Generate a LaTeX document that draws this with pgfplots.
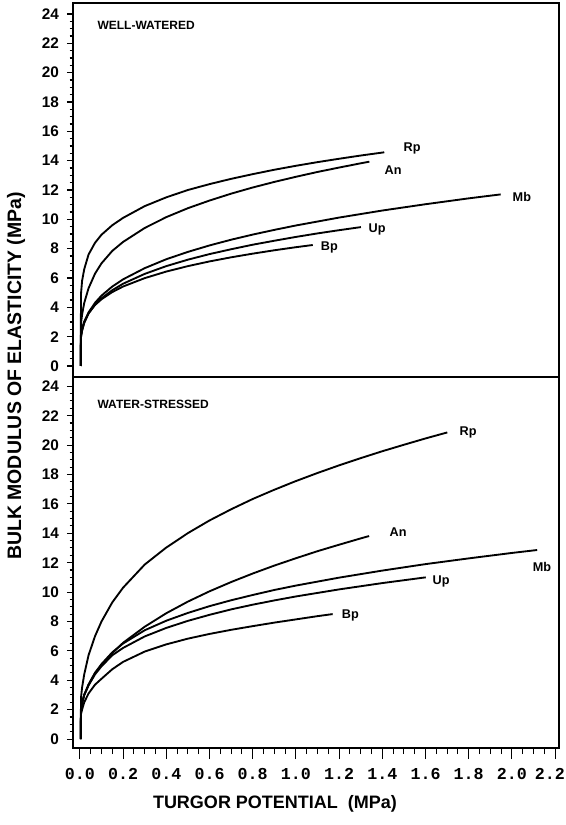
\documentclass[border=0pt]{standalone}
\usepackage{pgfplots}
\pgfplotsset{compat=1.18}
\usepackage{fontspec}
\setmainfont{Liberation Sans}
\setmonofont{Liberation Mono}

\pgfplotsset{
  panel/.style={
    width=364.5pt, scale only axis,
    xmin=-0.032, xmax=2.218,
    ytick={0,2,...,24},
    yticklabels={0,2,4,6,8,10,12,14,16,18,20,22,24},
    minor y tick num=3,
    ytick pos=left,
    tick align=outside,
    major tick length=4.5pt,
    minor tick length=2.6pt,
    axis line style={line width=1pt},
    yticklabel style={font=\fontsize{11.5}{13}\selectfont\bfseries, xshift=-2.5pt},
    every tick/.style={black, line width=0.8pt},
    clip=false,
  },
  curve/.style={black, line width=1.4pt, no marks},
}
\tikzset{lab/.style={font=\fontsize{9.5}{11}\selectfont\bfseries}}

\begin{document}
\begin{tikzpicture}
\useasboundingbox (-54.75pt,-57.75pt) rectangle (369.75pt,561pt);

% top panel: well-watered
\begin{axis}[panel, at={(0,278.25pt)}, anchor=south west,
  height=280.5pt, ymin=-0.75, ymax=24.75,
  xtick=\empty]
\addplot[curve] coordinates {(0.004,0) (0.005,4.9) (0.01,5.8) (0.02,6.6) (0.04,7.6) (0.07,8.4) (0.1,8.95) (0.15,9.6) (0.2,10.1) (0.3,10.9) (0.4,11.5) (0.5,12.0) (0.6,12.4) (0.7,12.76) (0.8,13.08) (0.9,13.38) (1.0,13.65) (1.1,13.9) (1.2,14.13) (1.3,14.35) (1.409,14.57)};
\addplot[curve] coordinates {(0.004,0) (0.005,2.9) (0.01,3.5) (0.02,4.3) (0.04,5.3) (0.07,6.3) (0.1,7.0) (0.15,7.85) (0.2,8.46) (0.3,9.41) (0.4,10.15) (0.5,10.76) (0.6,11.28) (0.7,11.75) (0.8,12.17) (0.9,12.55) (1.0,12.9) (1.1,13.23) (1.2,13.53) (1.3,13.82) (1.34,13.93)};
\addplot[curve] coordinates {(0.004,0) (0.005,1.96) (0.01,2.41) (0.02,2.96) (0.04,3.65) (0.07,4.31) (0.1,4.8) (0.15,5.42) (0.2,5.91) (0.3,6.67) (0.4,7.28) (0.5,7.78) (0.6,8.22) (0.7,8.61) (0.8,8.96) (0.9,9.28) (1.0,9.58) (1.2,10.12) (1.4,10.6) (1.6,11.03) (1.8,11.43) (1.948,11.7)};
\addplot[curve] coordinates {(0.004,0) (0.005,2.0) (0.01,2.42) (0.02,2.94) (0.04,3.57) (0.07,4.18) (0.1,4.62) (0.15,5.17) (0.2,5.61) (0.3,6.28) (0.4,6.81) (0.5,7.25) (0.6,7.63) (0.7,7.96) (0.8,8.27) (0.9,8.54) (1.0,8.8) (1.1,9.04) (1.2,9.26) (1.301,9.47)};
\addplot[curve] coordinates {(0.004,0) (0.005,2.15) (0.01,2.56) (0.02,3.04) (0.04,3.62) (0.07,4.16) (0.1,4.55) (0.15,5.04) (0.2,5.42) (0.3,5.99) (0.4,6.44) (0.5,6.81) (0.6,7.13) (0.7,7.41) (0.8,7.66) (0.9,7.89) (1.0,8.1) (1.078,8.25)};
\node[lab] at (axis cs:1.538,14.86) {Rp};
\node[lab] at (axis cs:1.450,13.36) {An};
\node[lab] at (axis cs:2.046,11.52) {Mb};
\node[lab] at (axis cs:1.376,9.34) {Up};
\node[lab] at (axis cs:1.155,8.11) {Bp};
\node[lab, anchor=west, font=\fontsize{9}{11}\selectfont\bfseries] at (axis cs:0.06,23.25) {WELL-WATERED};
\end{axis}

% bottom panel: water-stressed
\begin{axis}[panel, at={(0,0)}, anchor=south west,
  height=278.25pt, ymin=-0.61, ymax=24.63,
  xtick={0,0.2,...,2.2},
  xticklabels={0.0,0.2,0.4,0.6,0.8,1.0,1.2,1.4,1.6,1.8,2.0,\kern-8pt2.2},
  minor x tick num=3,
  xtick pos=bottom,
  xtick style={/pgfplots/major tick length=8.25pt, /pgfplots/minor tick length=4.5pt},
  xticklabel style={font=\fontsize{12.5}{14}\selectfont\ttfamily\bfseries, yshift=-7.5pt}]
\addplot[curve] coordinates {(0.004,0) (0.005,2.8) (0.01,3.5) (0.02,4.4) (0.04,5.7) (0.07,7.0) (0.1,8.0) (0.15,9.3) (0.2,10.3) (0.3,11.87) (0.4,13.03) (0.5,14.01) (0.6,14.87) (0.7,15.63) (0.8,16.33) (0.9,16.96) (1.0,17.55) (1.1,18.1) (1.2,18.62) (1.3,19.11) (1.4,19.58) (1.5,20.02) (1.6,20.45) (1.701,20.86)};
\addplot[curve] coordinates {(0.004,0) (0.005,1.9) (0.01,2.4) (0.02,3.0) (0.04,3.7) (0.07,4.5) (0.1,5.05) (0.15,5.85) (0.2,6.55) (0.3,7.64) (0.4,8.56) (0.5,9.35) (0.6,10.05) (0.7,10.68) (0.8,11.26) (0.9,11.8) (1.0,12.3) (1.1,12.78) (1.2,13.22) (1.3,13.65) (1.339,13.81)};
\addplot[curve] coordinates {(0.004,0) (0.005,2.0) (0.01,2.5) (0.02,3.0) (0.04,3.7) (0.07,4.5) (0.1,5.1) (0.15,5.9) (0.2,6.5) (0.3,7.4) (0.4,8.05) (0.5,8.58) (0.6,9.04) (0.7,9.44) (0.8,9.8) (0.9,10.14) (1.0,10.44) (1.2,10.98) (1.4,11.46) (1.6,11.9) (1.8,12.29) (2.0,12.66) (2.117,12.86)};
\addplot[curve] coordinates {(0.004,0) (0.005,2.0) (0.01,2.45) (0.02,3.0) (0.04,3.65) (0.07,4.4) (0.1,4.95) (0.15,5.7) (0.2,6.2) (0.3,6.98) (0.4,7.56) (0.5,8.04) (0.6,8.45) (0.7,8.82) (0.8,9.14) (0.9,9.43) (1.0,9.7) (1.2,10.18) (1.4,10.61) (1.601,11.0)};
\addplot[curve] coordinates {(0.004,0) (0.005,1.7) (0.01,2.0) (0.02,2.5) (0.04,3.1) (0.07,3.7) (0.1,4.1) (0.15,4.75) (0.2,5.25) (0.3,5.95) (0.4,6.44) (0.5,6.83) (0.6,7.15) (0.7,7.43) (0.8,7.68) (0.9,7.92) (1.0,8.14) (1.1,8.36) (1.17,8.5)};
\node[lab] at (axis cs:1.797,20.88) {Rp};
\node[lab] at (axis cs:1.473,14.08) {An};
\node[lab] at (axis cs:2.139,11.71) {Mb};
\node[lab] at (axis cs:1.672,10.75) {Up};
\node[lab] at (axis cs:1.252,8.44) {Bp};
\node[lab, anchor=west, font=\fontsize{9}{11}\selectfont\bfseries] at (axis cs:0.06,22.8) {WATER-STRESSED};
\end{axis}

% axis titles
\node[rotate=90, font=\fontsize{14.6}{16}\selectfont\bfseries] at (-42.75pt,279pt) {BULK MODULUS OF ELASTICITY (MPa)};
\node[font=\fontsize{13.5}{16}\selectfont\bfseries] at (151.5pt,-42pt) {TURGOR POTENTIAL\ \ (MPa)};
\end{tikzpicture}
\end{document}
